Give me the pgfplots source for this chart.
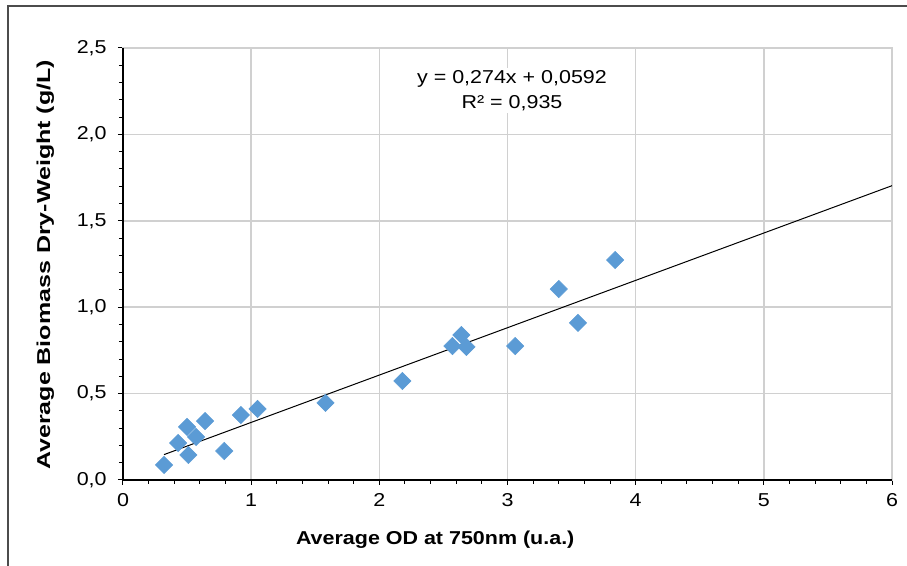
\documentclass[border=0pt]{standalone}
\usepackage{pgfplots}
\pgfplotsset{compat=1.18}
\usepackage{fontspec}
\setmainfont{Liberation Sans}[FakeStretch=1.15]
\newfontfamily\ylfont{Liberation Sans}[FakeStretch=1.34]
\definecolor{mk}{HTML}{5B9BD5}
\definecolor{gr}{HTML}{D0D0D0}
\begin{document}
\begin{tikzpicture}
\useasboundingbox (0,0) rectangle (680.25pt,424.5pt);
\draw[black!70, line width=1pt] (6pt,-2pt) -- (6pt,420pt) -- (684pt,420pt);
\begin{axis}[
 at={(92.25pt,64.5pt)}, anchor=south west,
 scale only axis, width=576.75pt, height=324pt,
 xmin=0, xmax=6, ymin=0, ymax=2.5,
 xtick={0,1,2,3,4,5,6}, ytick={0,0.5,1,1.5,2,2.5},
 minor x tick num=4, minor y tick num=4,
 tick align=outside, xtick pos=lower, ytick pos=lower,
 major tick length=3.75pt, minor tick length=3pt,
 tick style={black, line width=0.75pt},
 grid=major, major grid style={gr, line width=1.1pt},
 minor grid style={draw=none},
 axis line style={gr, line width=1.1pt},
 x tick label style={yshift=-3pt, /pgf/number format/.cd, fixed, precision=0},
 y tick label style={xshift=-5pt, /pgf/number format/.cd, fixed, fixed zerofill, precision=1, use comma},
 /pgf/number format/assume math mode=true,
 tick label style={font=\fontsize{14}{17}\selectfont},
 xlabel style={font=\bfseries\fontsize{14}{17}\selectfont, at={(axis description cs:0.406,-0.139)}, anchor=center},
 ylabel style={font=\ylfont\bfseries\fontsize{14}{17}\selectfont, at={(axis description cs:-0.101,0.498)}, anchor=center},
 xlabel={Average OD at 750nm (u.a.)},
 ylabel={Average Biomass Dry-Weight (g/L)},
 clip=false,
]
\addplot[only marks, mark=square*, mark size=4.6pt, mark options={fill=mk, draw=mk, rotate=45}] coordinates {
(0.32,0.087) (0.43,0.214) (0.50,0.307) (0.51,0.145) (0.57,0.249)
(0.64,0.341) (0.79,0.168) (0.92,0.376) (1.05,0.411) (1.58,0.446)
(2.18,0.573) (2.57,0.775) (2.64,0.839) (2.68,0.770) (3.06,0.775)
(3.40,1.105) (3.55,0.909) (3.84,1.273)
};
\addplot[black, line width=0.75pt, no marks] coordinates {(0.32,0.1469) (6,1.7032)};
\draw[black, line width=0.9pt] (rel axis cs:0,1) -- (rel axis cs:0,0) -- (rel axis cs:1,0);
\node[align=center, fill=white, inner sep=2pt, font=\fontsize{14}{18.75}\selectfont] at (axis cs:3.035,2.254) {y = 0,274x + 0,0592\\R² = 0,935};
\end{axis}
\end{tikzpicture}
\end{document}
